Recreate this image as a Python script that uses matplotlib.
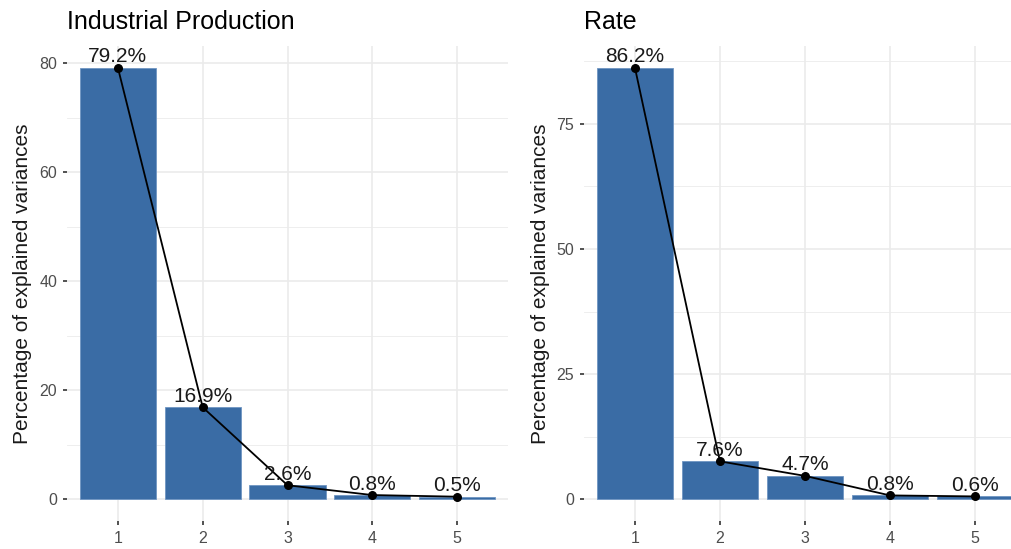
import numpy as np
import matplotlib
matplotlib.use('Agg')
import matplotlib.pyplot as plt

plt.rcParams['font.family'] = ['Liberation Sans', 'DejaVu Sans']

dims = [1, 2, 3, 4, 5]
ip_vals = [79.2, 16.9, 2.6, 0.8, 0.5]
rate_vals = [86.2, 7.6, 4.7, 0.8, 0.6]
ip_ticks = [0, 20, 40, 60, 80]
rate_ticks = [0, 25, 50, 75]
titles = ['Industrial Production', 'Rate']

bar_col = '#3A6CA5'
grid_col = '#EBEBEB'

fig = plt.figure(figsize=(10.12, 5.49), dpi=100)

panels = [
    (ip_vals, ip_ticks, titles[0], [0.0662, 0.051, 0.4358, 0.865]),
    (rate_vals, rate_ticks, titles[1], [0.577, 0.051, 0.4368, 0.865]),
]

for vals, ticks, title, pos in panels:
    ax = fig.add_axes(pos)
    top = max(vals)
    ax.set_xlim(0.4, 5.6)
    ax.set_ylim(-0.05 * top, top * 1.05)

    # grid like theme_minimal
    minor = [(ticks[i] + ticks[i + 1]) / 2 for i in range(len(ticks) - 1)]
    minor.append(ticks[-1] + (ticks[1] - ticks[0]) / 2)
    for m in minor:
        ax.axhline(m, color=grid_col, lw=0.6, zorder=0)
    for t in ticks:
        ax.axhline(t, color=grid_col, lw=1.2, zorder=0)
    for d in dims:
        ax.axvline(d, color=grid_col, lw=1.2, zorder=0)

    ax.bar(dims, vals, width=0.9, color=bar_col, edgecolor='#6F95C2', linewidth=0.6, zorder=2)
    ax.plot(dims, vals, color='black', lw=1.3, zorder=3)
    ax.scatter(dims, vals, s=30, color='black', zorder=4)
    for d, v in zip(dims, vals):
        ax.annotate('%.1f%%' % v, (d, v), xytext=(0, 1), textcoords='offset points',
                    ha='center', va='bottom', fontsize=15, color='#1A1A1A', zorder=5)

    ax.set_xticks(dims)
    ax.set_xticklabels([str(d) for d in dims])
    ax.set_yticks(ticks)
    ax.tick_params(axis='both', length=3, width=1.2, color='#333333', labelcolor='#4D4D4D',
                   labelsize=11.5, pad=4)
    for s in ax.spines.values():
        s.set_visible(False)
    ax.set_ylabel('Percentage of explained variances', fontsize=15, labelpad=5, color='#1A1A1A')
    ax.set_title(title, loc='left', fontsize=18, pad=12)

plt.savefig('out.png', dpi=100)
